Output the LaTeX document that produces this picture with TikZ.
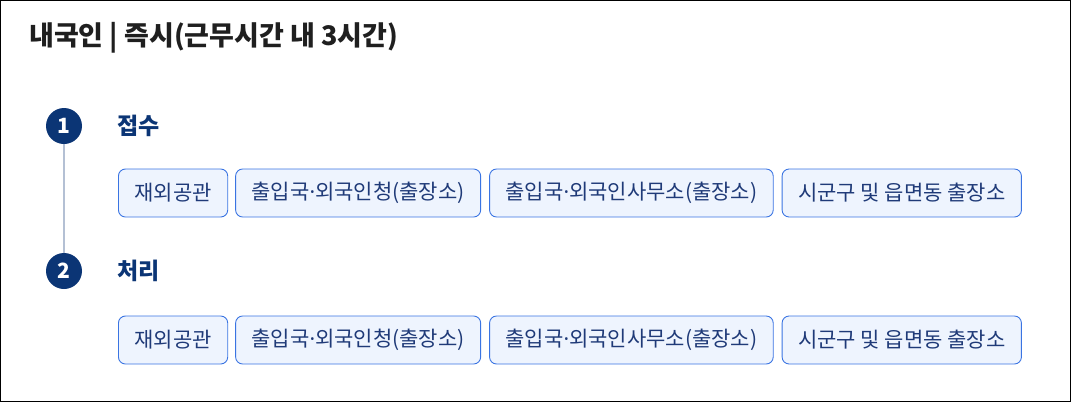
\documentclass[tikz,border=0pt]{standalone}
\usepackage{fontspec}
\setmainfont{Noto Sans CJK KR}
\newfontfamily\dotfont{Noto Sans}
\usetikzlibrary{positioning}

\definecolor{navy}{HTML}{0B3575}
\definecolor{tagline}{HTML}{3A74E2}
\definecolor{tagfill}{HTML}{EEF4FE}
\definecolor{tagtext}{HTML}{1F3A78}
\definecolor{railgray}{HTML}{B4C0D4}

\newcommand{\mdot}{{\dotfont ·}}

\tikzset{
  stepnum/.style={circle, fill=navy, text=white, minimum size=36pt, inner sep=0pt,
                  font=\fontsize{21}{21}\bfseries},
  stephead/.style={anchor=west, text=navy, inner sep=0pt, font=\fontsize{23}{23}\bfseries},
  tagbox/.style={draw=tagline, fill=tagfill, text=tagtext, rounded corners=7pt,
                 line width=0.9pt, minimum height=48pt, inner xsep=16pt, inner ysep=0pt,
                 font=\fontsize{21}{21}\selectfont},
}

\begin{document}
\begin{tikzpicture}[x=1pt, y=-1pt]
    % frame
    \draw [line width=1.2pt] (0.6, 0.6) rectangle (1070.4, 401.4);
    \node [anchor=west, inner sep=0pt, text=black!88, font=\fontsize{27}{27}\bfseries]
          (title) at (29, 38) {내국인 | 즉시(근무시간 내 3시간)};
    % step 1
    \node [stepnum] (step1) at (64, 126) {1};
    \node [stephead] (head1) at (117, 126) {접수};
    \node [tagbox, anchor=west] (a1) at (118, 193) {재외공관};
    \node [tagbox, right=7pt of a1] (a2) {출입국\mdot 외국인청(출장소)};
    \node [tagbox, right=8pt of a2] (a3) {출입국\mdot 외국인사무소(출장소)};
    \node [tagbox, right=8pt of a3] (a4) {시군구 및 읍면동 출장소};
    % step 2
    \node [stepnum] (step2) at (64, 271) {2};
    \node [stephead] (head2) at (117, 271) {처리};
    \node [tagbox, anchor=west] (b1) at (118, 340) {재외공관};
    \node [tagbox, right=7pt of b1] (b2) {출입국\mdot 외국인청(출장소)};
    \node [tagbox, right=8pt of b2] (b3) {출입국\mdot 외국인사무소(출장소)};
    \node [tagbox, right=8pt of b3] (b4) {시군구 및 읍면동 출장소};
    % rail
    \draw [railgray, line width=1.2pt] (step1.south) -- (step2.north);
\end{tikzpicture}
\end{document}
